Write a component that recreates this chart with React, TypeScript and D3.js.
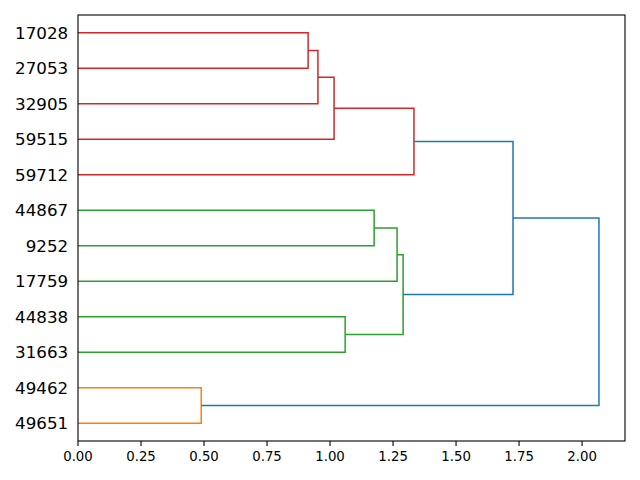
import React from "react";
import * as d3 from "d3";

const leafLabels = ["17028", "27053", "32905", "59515", "59712", "44867", "9252", "17759", "44838", "31663", "49462", "49651"];
// linkage rows: child A, child B, merge distance, colour group (ids >= 12 refer to earlier rows)
const linkA = [0, 12, 13, 14, 5, 16, 8, 17, 10, 15, 21];
const linkB = [1, 2, 3, 4, 6, 7, 9, 18, 11, 19, 20];
const linkDist = [0.913, 0.952, 1.016, 1.333, 1.175, 1.266, 1.06, 1.29, 0.489, 1.726, 2.067];
const linkColor = ["#d62728", "#d62728", "#d62728", "#d62728", "#2ca02c", "#2ca02c", "#2ca02c", "#2ca02c", "#ff7f0e", "#1f77b4", "#1f77b4"];
const xTicks = [0, 0.25, 0.5, 0.75, 1.0, 1.25, 1.5, 1.75, 2.0];

const W = 640, H = 480;
const left = 78, right = 625, top = 15, bottom = 441;

export default function App() {
  const n = leafLabels.length;
  const maxD = d3.max(linkDist) as number;
  const x = d3.scaleLinear().domain([0, maxD * 1.05]).range([left, right]);
  const y = d3.scaleLinear().domain([0, n * 10]).range([bottom, top]);

  const pos: number[] = [];
  const hgt: number[] = [];
  leafLabels.forEach((_, i) => {
    pos[i] = (n - 1 - i) * 10 + 5;
    hgt[i] = 0;
  });
  const paths: { d: string; c: string }[] = [];
  linkDist.forEach((h, k) => {
    const a = linkA[k], b = linkB[k];
    const id = n + k;
    pos[id] = (pos[a] + pos[b]) / 2;
    hgt[id] = h;
    const p = d3.path();
    p.moveTo(x(hgt[a]), y(pos[a]));
    p.lineTo(x(h), y(pos[a]));
    p.lineTo(x(h), y(pos[b]));
    p.lineTo(x(hgt[b]), y(pos[b]));
    paths.push({ d: p.toString(), c: linkColor[k] });
  });

  return (
    <svg width={W} height={H} style={{ position: "absolute", left: 0, top: 0, fontFamily: "DejaVu Sans" }}>
      <rect x={0} y={0} width={W} height={H} fill="#fff" />
      {paths.map((p, i) => (
        <path key={i} d={p.d} fill="none" stroke={p.c} strokeWidth={1.5} />
      ))}
      <rect x={left} y={top} width={right - left} height={bottom - top} fill="none" stroke="#000" strokeWidth={1.1} />
      {xTicks.map((t) => (
        <g key={t}>
          <line x1={x(t)} x2={x(t)} y1={bottom} y2={bottom + 4.9} stroke="#000" strokeWidth={1.1} />
          <text x={x(t)} y={bottom + 9.8} dy="0.76em" textAnchor="middle" fontSize={13.3} fill="#000">
            {d3.format(".2f")(t)}
          </text>
        </g>
      ))}
      {leafLabels.map((l, i) => (
        <text key={l} x={left - 9.8} y={y(pos[i])} dy="0.36em" textAnchor="end" fontSize={16.7} fill="#000">
          {l}
        </text>
      ))}
    </svg>
  );
}
